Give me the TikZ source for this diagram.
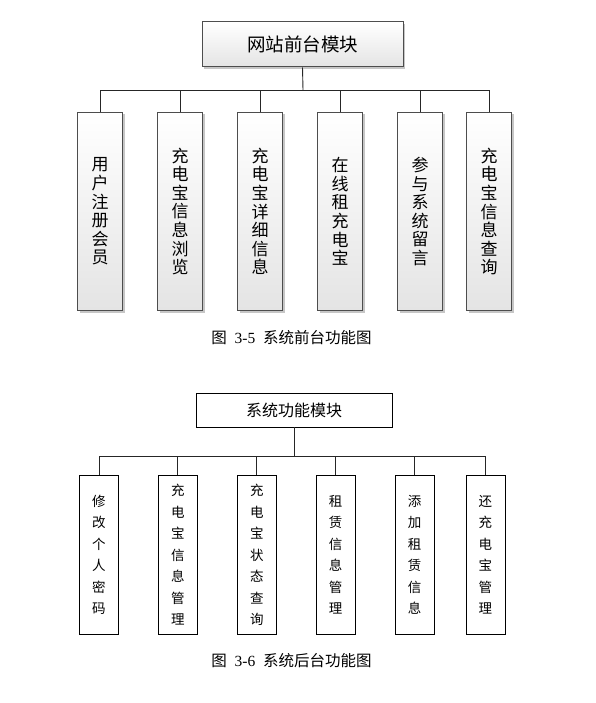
\documentclass[tikz,border=0pt]{standalone}
\usepackage{fontspec}
\setmainfont{Liberation Serif}
\newfontfamily\cjk{Noto Sans CJK SC}
\usepackage{tikz}
\usetikzlibrary{positioning, shadows}
\definecolor{frame}{HTML}{4D4D4D}
\definecolor{shade}{HTML}{E4E4E4}
\tikzset{
  headf/.style={draw=frame, line width=1pt, top color=white, bottom color=shade,
                drop shadow={shadow xshift=2pt, shadow yshift=-2pt, fill=gray!45, opacity=1},
                minimum width=201pt, minimum height=45pt, inner sep=0pt,
                font=\cjk\fontsize{18.5}{20}\selectfont},
  leaff/.style={draw=frame, line width=1pt, top color=white, bottom color=shade,
                drop shadow={shadow xshift=2pt, shadow yshift=-2pt, fill=gray!45, opacity=1},
                minimum width=45pt, minimum height=198pt, inner sep=0pt, align=center,
                font=\cjk\fontsize{17}{18.6}\selectfont},
  headb/.style={draw=black, line width=0.9pt, fill=white,
                minimum width=196pt, minimum height=34pt, inner sep=0pt,
                font=\cjk\fontsize{16}{18}\selectfont},
  leafb/.style={draw=black, line width=0.9pt, fill=white,
                minimum width=39pt, minimum height=159pt, inner sep=0pt, align=center,
                font=\cjk\fontsize{13.5}{21.5}\selectfont},
  link/.style={draw=black!85, line width=0.9pt},
  capt/.style={font=\fontsize{15.5}{17}\selectfont},
}

\begin{document}
\begin{tikzpicture}[x=1pt, y=-1pt]
  \useasboundingbox (0,0) rectangle (595,703);

  % --- front-end modules (top) ---
  \node[headf] (web) at (302.5,44.5) {网站前台模块};
  \node[leaff, anchor=north west] (f1) at (77,112) {用\\户\\注\\册\\会\\员};
  \node[leaff, right=34pt of f1] (f2) {充\\电\\宝\\信\\息\\浏\\览};
  \node[leaff, right=34pt of f2] (f3) {充\\电\\宝\\详\\细\\信\\息};
  \node[leaff, right=34pt of f3] (f4) {在\\线\\租\\充\\电\\宝};
  \node[leaff, right=34pt of f4] (f5) {参\\与\\系\\统\\留\\言};
  \node[leaff, right=23pt of f5] (f6) {充\\电\\宝\\信\\息\\查\\询};

  \coordinate (busf) at (303,90);
  \draw[link] (web.south) -- (busf);
  \foreach \n in {f1,f2,f3,f4,f5,f6}
    \draw[link] (busf) -| (\n.north);

  \node[capt] (capf) at (291.5,338) {{\cjk 图}\ \ 3-5\ \ {\cjk 系统前台功能图}};

  % --- back-end modules (bottom) ---
  \node[headb] (sys) at (294,410) {系统功能模块};
  \node[leafb, anchor=north west] (b1) at (79,475) {修\\改\\个\\人\\密\\码};
  \node[leafb, right=39pt of b1] (b2) {充\\电\\宝\\信\\息\\管\\理};
  \node[leafb, right=39pt of b2] (b3) {充\\电\\宝\\状\\态\\查\\询};
  \node[leafb, right=39pt of b3] (b4) {租\\赁\\信\\息\\管\\理};
  \node[leafb, right=39pt of b4] (b5) {添\\加\\租\\赁\\信\\息};
  \node[leafb, right=31pt of b5] (b6) {还\\充\\电\\宝\\管\\理};

  \coordinate (busb) at (294,456);
  \draw[link] (sys.south) -- (busb);
  \foreach \n in {b1,b2,b3,b4,b5,b6}
    \draw[link] (busb) -| (\n.north);

  \node[capt] (capb) at (291.5,661) {{\cjk 图}\ \ 3-6\ \ {\cjk 系统后台功能图}};

\end{tikzpicture}
\end{document}
